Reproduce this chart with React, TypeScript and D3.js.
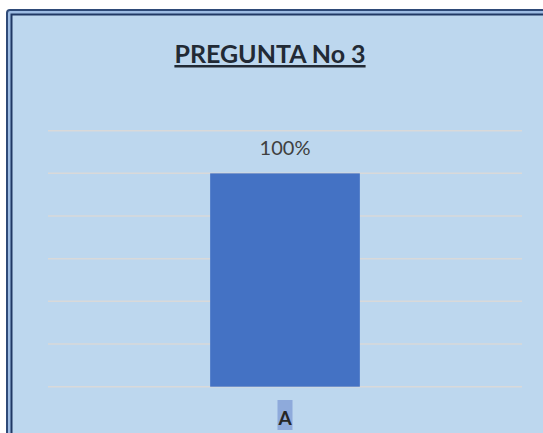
import React from 'react';
import * as d3 from 'd3';

const categories = ['A'];
const values = [1];
const valueLabels = ['100%'];
const yTicks = [0, 0.2, 0.4, 0.6, 0.8, 1, 1.2];
const title = 'PREGUNTA No 3';

const W = 543;
const H = 433;
const plot = { left: 48, right: 522, top: 130.7, bottom: 386.7 };

export default function App() {
  const x = d3.scaleBand<string>()
    .domain(categories)
    .range([plot.left, plot.right])
    .paddingInner(0.52)
    .paddingOuter(0.52);

  const y = d3.scaleLinear()
    .domain([0, 1.2])
    .range([plot.bottom, plot.top]);

  const font = 'Lato, "Open Sans", sans-serif';

  return (
    <svg width={W} height={H} style={{ position: 'absolute', left: 0, top: 0 }}>
      {/* chart frame, runs off right and bottom edge */}
      <rect x={7} y={10} width={560} height={450} rx={3} fill="#9DBCE3" stroke="#2E4A78" strokeWidth={2} />
      <rect x={11.5} y={14.5} width={560} height={450} fill="#BDD7EE" stroke="#203864" strokeWidth={2} />

      <text x={270} y={63} textAnchor="middle" fontFamily={font} fontWeight="bold"
        fontSize={25} fill="#222A35" textDecoration="underline">{title}</text>

      {yTicks.map(t => (
        <line key={t} x1={plot.left} x2={plot.right} y1={y(t)} y2={y(t)}
          stroke="#D9D9D9" strokeWidth={1.5} />
      ))}

      {categories.map((c, i) => (
        <g key={c}>
          <rect x={x(c)} y={y(values[i])} width={x.bandwidth()}
            height={y(0) - y(values[i])} fill="#4472C4" />
          <text x={x(c)! + x.bandwidth() / 2} y={y(values[i]) - 18} textAnchor="middle"
            fontFamily={font} fontSize={20} fill="#404040">{valueLabels[i]}</text>
          <rect x={x(c)! + x.bandwidth() / 2 - 7.5} y={400} width={15} height={30} fill="#8EAADB" />
          <text x={x(c)! + x.bandwidth() / 2} y={424.5} textAnchor="middle"
            fontFamily={font} fontWeight="bold" fontSize={19} fill="#262626">{c}</text>
        </g>
      ))}
    </svg>
  );
}
